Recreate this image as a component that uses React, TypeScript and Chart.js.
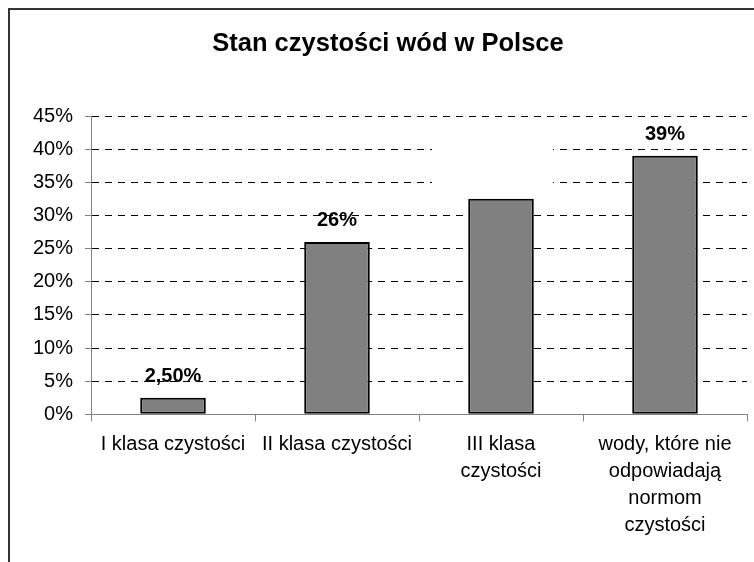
import React, { useEffect, useRef } from "react";
import { Chart, registerables } from "chart.js";

Chart.register(...registerables);

const title = "Stan czystości wód w Polsce";
const categories: string[][] = [
  ["I klasa czystości"],
  ["II klasa czystości"],
  ["III klasa", "czystości"],
  ["wody, które nie", "odpowiadają", "normom", "czystości"],
];
const values: number[] = [2.5, 26, 32.5, 39];
const valueLabels: string[] = ["2,50%", "26%", "", "39%"];
const yMin = 0;
const yMax = 45;
const yStep = 5;

const FONT = '"Liberation Sans", Arial, Helvetica, sans-serif';

const dataLabelPlugin = {
  id: "dataLabels",
  afterDatasetsDraw(chart: any) {
    const ctx = chart.ctx;
    const meta = chart.getDatasetMeta(0);
    ctx.save();
    ctx.font = `bold 20px ${FONT}`;
    ctx.fillStyle = "#000";
    ctx.textAlign = "center";
    ctx.textBaseline = "alphabetic";
    meta.data.forEach((bar: any, i: number) => {
      const t = valueLabels[i];
      if (!t) return;
      ctx.fillText(t, bar.x, bar.y - 16);
    });
    ctx.restore();
  },
};

// empty white text box that hides part of the gridlines above the third bar
const blankBoxPlugin = {
  id: "blankBox",
  beforeDatasetsDraw(chart: any) {
    const ctx = chart.ctx;
    const xs = chart.scales.x;
    const ys = chart.scales.y;
    const cx = xs.getPixelForValue(2);
    const y1 = ys.getPixelForValue(43);
    const y2 = ys.getPixelForValue(32);
    ctx.save();
    ctx.fillStyle = "#fff";
    ctx.fillRect(cx - 69, y1, 121, y2 - y1);
    ctx.restore();
  },
};

export default function App() {
  const ref = useRef<HTMLCanvasElement | null>(null);
  useEffect(() => {
    if (!ref.current) return;
    const chart = new Chart(ref.current, {
      type: "bar",
      data: {
        labels: categories,
        datasets: [
          {
            data: values,
            backgroundColor: "#808080",
            borderColor: "#000",
            borderWidth: 2,
            borderSkipped: false,
            categoryPercentage: 1,
            barPercentage: 0.4,
          },
        ],
      },
      options: {
        responsive: false,
        animation: false,
        layout: { padding: { left: 19, right: 23, top: 0, bottom: 25.7 } },
        plugins: {
          legend: { display: false },
          tooltip: { enabled: false },
          title: {
            display: true,
            text: title,
            color: "#000",
            font: { family: FONT, size: 25.5, weight: "bold", lineHeight: 1.2 },
            padding: { top: 19, bottom: 56.4 },
          },
        },
        scales: {
          x: {
            offset: true,
            grid: {
              display: true,
              drawOnChartArea: false,
              drawTicks: true,
              tickLength: 7,
              tickColor: "#808080",
              color: "#808080",
              offset: true,
            },
            border: { display: true, color: "#808080", width: 1 },
            ticks: {
              color: "#000",
              font: { family: FONT, size: 20, lineHeight: 1.35 },
              padding: 10,
              maxRotation: 0,
              minRotation: 0,
              autoSkip: false,
            },
            afterFit: (s: any) => {
              s.height = 130;
            },
          },
          y: {
            min: yMin,
            max: yMax,
            grid: {
              color: (c: any) => (c.tick && c.tick.value === 0 ? "rgba(0,0,0,0)" : "#000"),
              lineWidth: 1,
              drawTicks: true,
              tickLength: 6,
              tickColor: "#808080",
            },
            border: { display: true, color: "#808080", width: 1, dash: [7, 6] },
            ticks: {
              stepSize: yStep,
              color: "#000",
              font: { family: FONT, size: 20 },
              padding: 12,
              callback: (v: any) => `${v}%`,
            },
            afterFit: (s: any) => {
              s.width = 62;
            },
          },
        },
      },
      plugins: [blankBoxPlugin, dataLabelPlugin],
    });
    return () => chart.destroy();
  }, []);

  return (
    <div
      style={{
        position: "absolute",
        left: 8,
        top: 8,
        width: 746,
        height: 554,
        overflow: "hidden",
        boxSizing: "border-box",
        borderLeft: "2px solid #333",
        borderTop: "2px solid #333",
        background: "#fff",
      }}
    >
      <canvas ref={ref} width={760} height={560} style={{ display: "block", width: 760, height: 560 }} />
    </div>
  );
}
